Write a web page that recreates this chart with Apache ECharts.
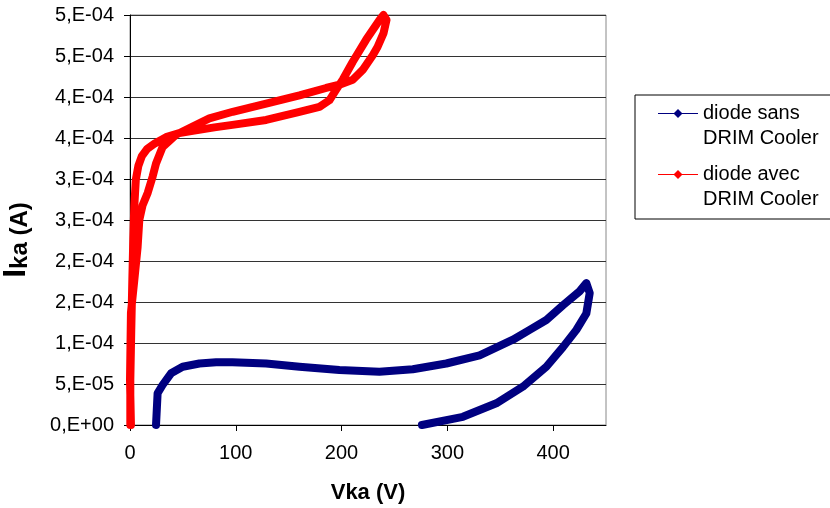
<!DOCTYPE html>
<html>
<head>
<meta charset="utf-8">
<script src="https://cdn.jsdelivr.net/npm/echarts@6/dist/echarts.min.js"></script>
<style>
html,body{margin:0;padding:0;background:#fff;}
#chart{width:830px;height:508px;}
</style>
</head>
<body>
<div id="chart"></div>
<script>
// Series names
const seriesNames = ['diode sans\nDRIM Cooler', 'diode avec\nDRIM Cooler'];

// diode sans DRIM Cooler (blue loop)
const blueV = [24.6, 26.1, 30.8, 38.8, 49.8, 65.6, 81.4, 96.8, 128.7, 160.2, 198, 235.8, 267.4, 299, 330.5, 362, 377.8, 393.6, 409.3, 425, 431.4, 434.6, 431.4, 422, 409.3, 393.6, 371.4, 346.3, 314.7, 276];
const blueI = [0, 3.87e-5, 4.88e-5, 6.3e-5, 7.1e-5, 7.5e-5, 7.65e-5, 7.65e-5, 7.5e-5, 7.1e-5, 6.7e-5, 6.5e-5, 6.8e-5, 7.5e-5, 8.5e-5, 1.04e-4, 1.16e-4, 1.28e-4, 1.46e-4, 1.63e-4, 1.73e-4, 1.61e-4, 1.36e-4, 1.16e-4, 9.5e-5, 7.1e-5, 4.67e-5, 2.65e-5, 1.0e-5, 0];

// diode avec DRIM Cooler (red loop)
const redV = [0.3, 0.3, 1.2, 2.2, 3.1, 4.1, 5.5, 7.9, 11.2, 16.4, 23, 34.1, 46.6, 60.8, 79.8, 96.8, 128.7, 160.2, 179.1, 188.5, 194.9, 201.1, 210.6, 223.3, 235.9, 239.6, 242.5, 239.7, 234, 229.5, 220, 210.6, 198, 185.4, 160.2, 128.7, 97.1, 75, 59.2, 43.5, 30.8, 24.6, 21.4, 16.7, 11.9, 8.8, 7.2, 4.1, 0.9, 0, 0.9];
const redI = [0, 5.5e-5, 1.16e-4, 1.77e-4, 2.26e-4, 2.68e-4, 2.99e-4, 3.16e-4, 3.28e-4, 3.37e-4, 3.43e-4, 3.51e-4, 3.56e-4, 3.59e-4, 3.63e-4, 3.66e-4, 3.72e-4, 3.82e-4, 3.88e-4, 3.96e-4, 4.09e-4, 4.21e-4, 4.43e-4, 4.70e-4, 4.94e-4, 5.0e-4, 4.94e-4, 4.78e-4, 4.61e-4, 4.51e-4, 4.33e-4, 4.21e-4, 4.15e-4, 4.11e-4, 4.02e-4, 3.92e-4, 3.82e-4, 3.74e-4, 3.64e-4, 3.54e-4, 3.39e-4, 3.19e-4, 3.03e-4, 2.83e-4, 2.68e-4, 2.5e-4, 2.17e-4, 1.77e-4, 1.37e-4, 5.5e-5, 0];

// Tick labels
const yTickLabels = ['0,E+00', '5,E-05', '1,E-04', '2,E-04', '2,E-04', '3,E-04', '3,E-04', '4,E-04', '4,E-04', '5,E-04', '5,E-04'];
const xTickLabels = ['0', '100', '200', '300', '400'];

function zip(a, b) { return a.map((v, i) => [v, b[i]]); }

const FONT = 'Liberation Sans, Arial, sans-serif';
const legendIcon = 'path://M0,0 h0.01 v0.01 h-0.01 Z M0,12 H16 L20,8 L24,12 H40 V13 H24 L20,17 L16,13 H0 Z M0,50 h0.01 v-0.01 h-0.01 Z';

const chart = echarts.init(document.getElementById('chart'), null, {renderer: 'canvas'});
chart.setOption({
  animation: false,
  backgroundColor: '#fff',
  grid: {left: 130, top: 15, right: 224, bottom: 83, show: true, borderColor: '#888', borderWidth: 1, backgroundColor: 'transparent', containLabel: false, outerBoundsMode: 'none'},
  xAxis: {
    type: 'value', min: 0, max: 450, interval: 100,
    axisLine: {show: true, onZero: false, lineStyle: {color: '#000', width: 1}},
    axisTick: {show: true, inside: false, length: 6, lineStyle: {color: '#000'}},
    splitLine: {show: false},
    axisLabel: {
      color: '#000', fontFamily: FONT, fontSize: 20, margin: 18,
      showMaxLabel: false,
      formatter: v => { const i = Math.round(v / 100); return (Math.abs(v - i * 100) < 1e-6 && i < xTickLabels.length) ? xTickLabels[i] : ''; }
    },
    name: 'Vka (V)', nameLocation: 'middle', nameGap: 57,
    nameTextStyle: {color: '#000', fontFamily: FONT, fontSize: 22, fontWeight: 'bold'}
  },
  yAxis: {
    type: 'value', min: 0, max: 5e-4, interval: 5e-5,
    axisLine: {show: true, onZero: false, lineStyle: {color: '#000', width: 1}},
    axisTick: {show: true, inside: false, length: 6, lineStyle: {color: '#000'}},
    splitLine: {show: true, lineStyle: {color: '#333', width: 1}},
    axisLabel: {
      color: '#000', fontFamily: FONT, fontSize: 20, margin: 16,
      formatter: v => yTickLabels[Math.round(v / 5e-5)] || ''
    },
    name: '{b|I}{s|ka (A)}', nameLocation: 'middle', nameRotate: 90, nameGap: 98,
    nameTextStyle: {
      color: '#000', fontFamily: FONT, fontWeight: 'bold', padding: [0, 40, 0, 0],
      rich: {
        b: {fontSize: 32, fontWeight: 'bold', fontFamily: FONT, color: '#000', verticalAlign: 'bottom'},
        s: {fontSize: 24, fontWeight: 'bold', fontFamily: FONT, color: '#000', verticalAlign: 'bottom'}
      }
    }
  },
  legend: {
    orient: 'vertical', left: 635, top: 95,
    padding: [6, 14, 7, 23], itemGap: 11,
    itemWidth: 40, itemHeight: 50,
    icon: legendIcon,
    borderColor: '#000', borderWidth: 1,
    itemStyle: {borderWidth: 0},
    textStyle: {color: '#000', fontFamily: FONT, fontSize: 20, lineHeight: 25},
    data: seriesNames
  },
  series: [
    {
      name: seriesNames[0], type: 'line', data: zip(blueV, blueI),
      showSymbol: false, symbol: 'none', clip: false, smooth: false,
      color: '#000080',
      lineStyle: {color: '#000080', width: 8, cap: 'round', join: 'round'}
    },
    {
      name: seriesNames[1], type: 'line', data: zip(redV, redI),
      showSymbol: false, symbol: 'none', clip: false, smooth: false,
      color: '#FF0000',
      lineStyle: {color: '#FF0000', width: 8, cap: 'round', join: 'round'}
    }
  ]
});
</script>
</body>
</html>
